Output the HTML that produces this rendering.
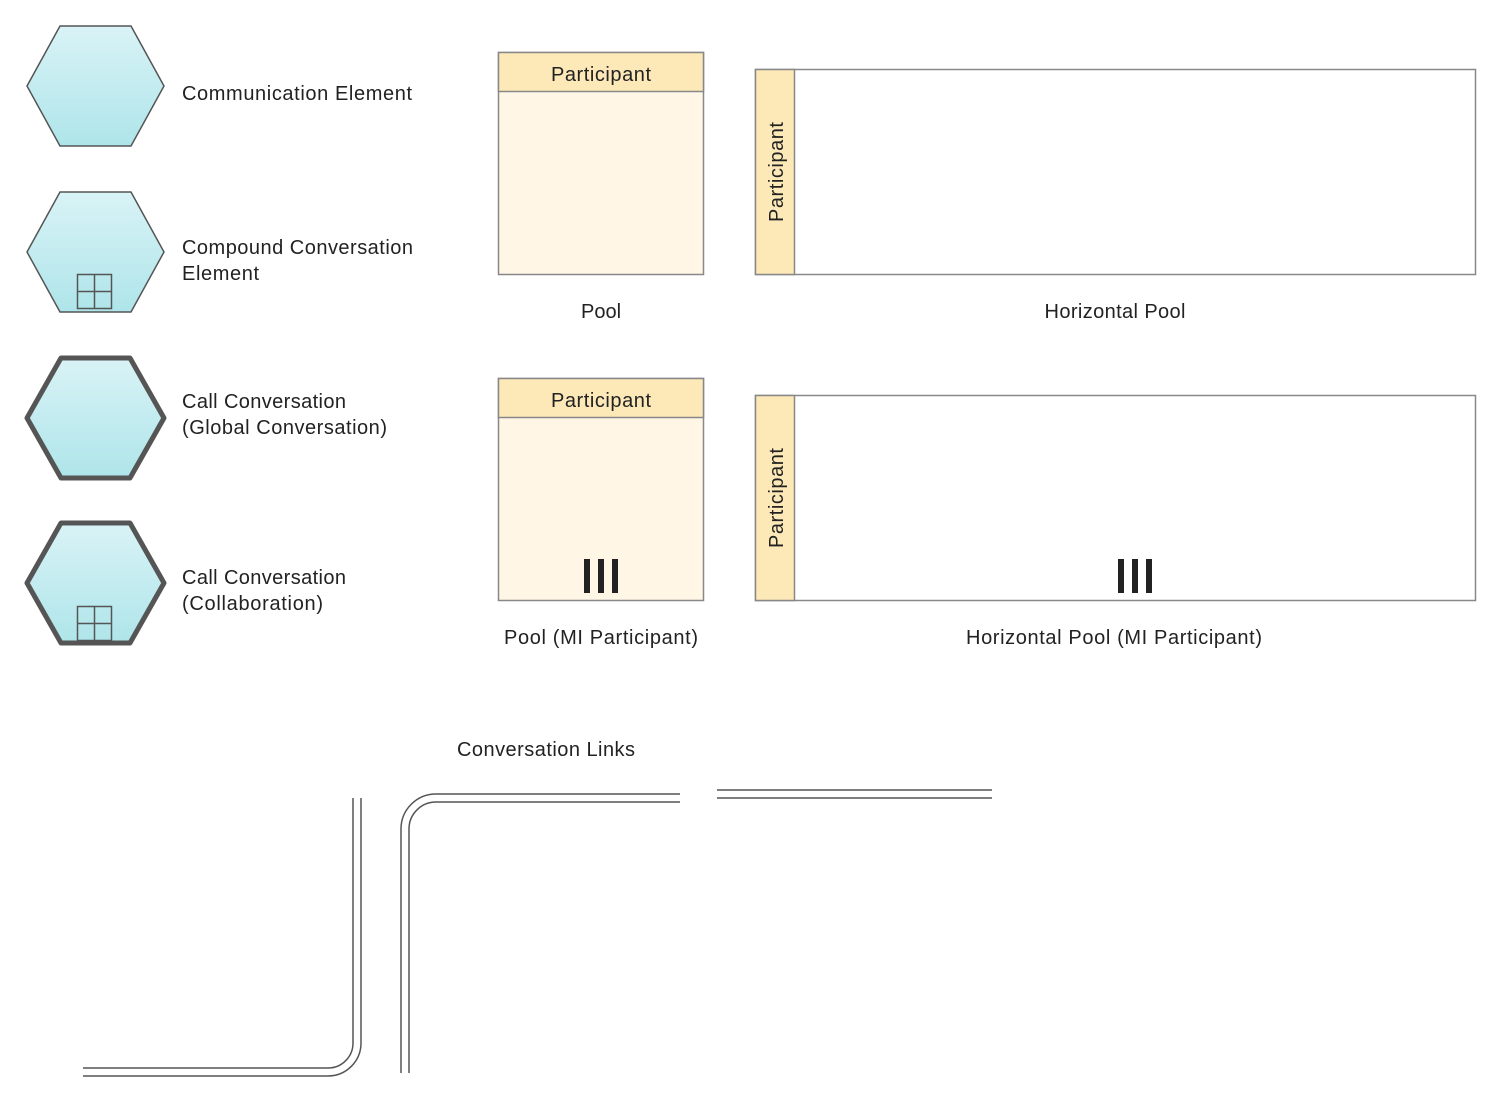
<!DOCTYPE html>
<html><head><style>body{margin:0;background:#fff}svg{display:block}</style></head><body>
<svg width="1500" height="1099" viewBox="0 0 1500 1099" xmlns="http://www.w3.org/2000/svg" font-family="Liberation Sans, sans-serif">
<defs><linearGradient id="g" x1="0" y1="0" x2="0" y2="1"><stop offset="0" stop-color="#d9f3f6"/><stop offset="1" stop-color="#aee5ea"/></linearGradient></defs>
<g fill="url(#g)" stroke="#555">
<polygon points="27,86 60,26 131,26 164,86 131,146 60,146" stroke-width="1.5"/>
<polygon points="27,252 60,192 131,192 164,252 131,312 60,312" stroke-width="1.5"/>
<polygon points="27,418 61,358 130,358 164,418 130,478 61,478" stroke-width="5" stroke-linejoin="round"/>
<polygon points="27,583 61,523 130,523 164,583 130,643 61,643" stroke-width="5" stroke-linejoin="round"/>
</g>
<g fill="none" stroke="#555" stroke-width="1.5">
<rect x="77.5" y="274.5" width="34" height="34"/><path d="M94.5 274.5V308.5M77.5 291.5H111.5"/>
<rect x="77.5" y="606.5" width="34" height="34"/><path d="M94.5 606.5V640.5M77.5 623.5H111.5"/>
</g>
<g font-size="20" fill="#222" lengthAdjust="spacing">
<text x="182" y="100" textLength="230">Communication Element</text>
<text x="182" y="254" textLength="231">Compound Conversation</text><text x="182" y="280" textLength="77">Element</text>
<text x="182" y="408" textLength="164">Call Conversation</text><text x="182" y="434" textLength="205">(Global Conversation)</text>
<text x="182" y="584" textLength="164">Call Conversation</text><text x="182" y="610" textLength="141">(Collaboration)</text>
</g>
<g stroke="#888" stroke-width="1.5">
<rect x="498.5" y="52.5" width="205" height="222" fill="#fff6e6"/>
<rect x="498.5" y="52.5" width="205" height="39" fill="#fde8b8"/>
<rect x="755.5" y="69.5" width="720" height="205" fill="#fff"/>
<rect x="755.5" y="69.5" width="39" height="205" fill="#fde8b8"/>
<rect x="498.5" y="378.5" width="205" height="222" fill="#fff6e6"/>
<rect x="498.5" y="378.5" width="205" height="39" fill="#fde8b8"/>
<rect x="755.5" y="395.5" width="720" height="205" fill="#fff"/>
<rect x="755.5" y="395.5" width="39" height="205" fill="#fde8b8"/>
</g>
<g fill="#222">
<rect x="584" y="559" width="6" height="34"/><rect x="598" y="559" width="6" height="34"/><rect x="612" y="559" width="6" height="34"/>
<rect x="1118" y="559" width="6" height="34"/><rect x="1132" y="559" width="6" height="34"/><rect x="1146" y="559" width="6" height="34"/>
</g>
<g font-size="20" fill="#222" text-anchor="middle">
<text x="601" y="81" textLength="100">Participant</text>
<text x="601" y="407" textLength="100">Participant</text>
<text transform="translate(783,172) rotate(-90)" textLength="100">Participant</text>
<text transform="translate(783,498) rotate(-90)" textLength="100">Participant</text>
<text x="601" y="318">Pool</text>
<text x="1115" y="318" textLength="141">Horizontal Pool</text>
<text x="601" y="644" textLength="194">Pool (MI Participant)</text>
<text x="1114" y="644" textLength="296">Horizontal Pool (MI Participant)</text>
<text x="546" y="756" textLength="178">Conversation Links</text>
</g>
<g fill="none" stroke="#555" stroke-width="1.5">
<path d="M353 798V1043A25 25 0 0 1 328 1068H83"/>
<path d="M361 798V1043A33 33 0 0 1 328 1076H83"/>
<path d="M401 1073V829A35 35 0 0 1 436 794H680"/>
<path d="M409 1073V829A27 27 0 0 1 436 802H680"/>
<path d="M717 790H992M717 798H992"/>
</g>
</svg>
</body></html>
